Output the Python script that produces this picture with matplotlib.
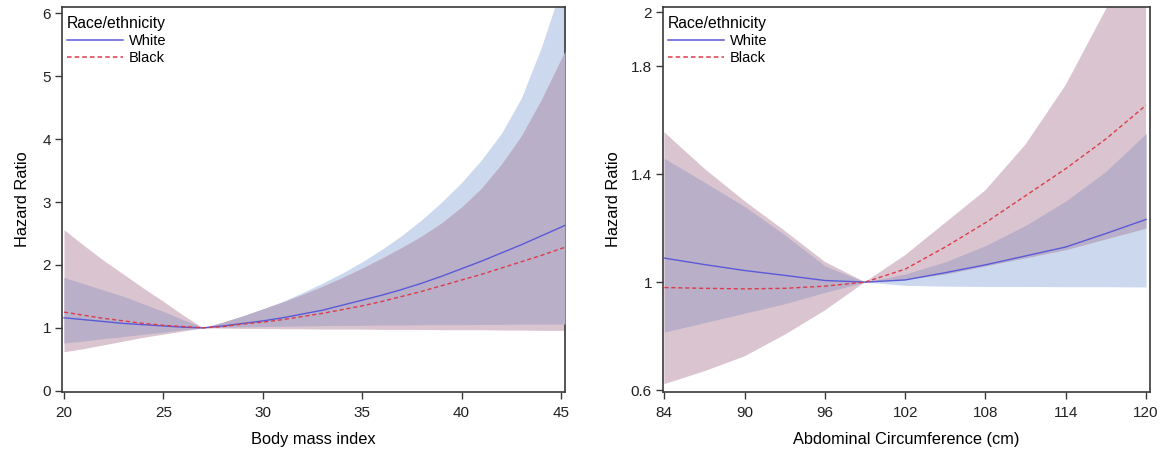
import numpy as np
import matplotlib
matplotlib.use("Agg")
import matplotlib.pyplot as plt
from matplotlib.lines import Line2D

plt.rcParams['font.family'] = ['Liberation Sans', 'DejaVu Sans']

# ---------------- Data: Body mass index ----------------
bmi = [20, 21, 22, 23, 24, 25, 26, 27, 28, 29, 30, 31, 32, 33, 34, 35, 36, 37,
       38, 39, 40, 41, 42, 43, 44, 45, 45.2]
white_hr = [1.16, 1.13, 1.10, 1.07, 1.05, 1.03, 1.01, 1.00, 1.03, 1.07, 1.11, 1.16,
            1.22, 1.28, 1.36, 1.44, 1.52, 1.61, 1.71, 1.82, 1.94, 2.06, 2.19, 2.32,
            2.46, 2.60, 2.63]
white_lo = [0.76, 0.79, 0.83, 0.86, 0.90, 0.93, 0.97, 1.00, 1.01, 1.015, 1.02, 1.025,
            1.03, 1.035, 1.04, 1.04, 1.045, 1.045, 1.05, 1.05, 1.05, 1.055, 1.055,
            1.06, 1.06, 1.06, 1.06]
white_hi = [1.80, 1.70, 1.60, 1.50, 1.38, 1.26, 1.13, 1.00, 1.09, 1.19, 1.30, 1.42,
            1.56, 1.71, 1.87, 2.05, 2.25, 2.47, 2.72, 3.00, 3.31, 3.67, 4.09, 4.65,
            5.45, 6.40, 6.60]
black_hr = [1.25, 1.20, 1.15, 1.11, 1.07, 1.04, 1.02, 1.00, 1.02, 1.06, 1.09, 1.13,
            1.18, 1.23, 1.29, 1.35, 1.42, 1.50, 1.58, 1.67, 1.76, 1.85, 1.95, 2.05,
            2.15, 2.26, 2.28]
black_lo = [0.62, 0.67, 0.73, 0.79, 0.85, 0.90, 0.95, 1.00, 0.995, 0.99, 0.99, 0.985,
            0.985, 0.98, 0.98, 0.98, 0.975, 0.975, 0.975, 0.97, 0.97, 0.97, 0.965,
            0.965, 0.96, 0.96, 0.96]
black_hi = [2.56, 2.31, 2.07, 1.85, 1.63, 1.42, 1.20, 1.00, 1.09, 1.19, 1.30, 1.41,
            1.53, 1.66, 1.80, 1.95, 2.11, 2.28, 2.46, 2.67, 2.92, 3.22, 3.60, 4.05,
            4.62, 5.27, 5.40]

# ---------------- Data: Abdominal circumference ----------------
wc = [84, 87, 90, 93, 96, 99, 102, 105, 108, 111, 114, 117, 120]
white_hr2 = [1.089, 1.065, 1.043, 1.025, 1.006, 1.0, 1.008, 1.035, 1.064, 1.097,
             1.13, 1.18, 1.232]
white_lo2 = [0.815, 0.85, 0.885, 0.92, 0.962, 1.0, 0.988, 0.985, 0.984, 0.984,
             0.983, 0.983, 0.982]
white_hi2 = [1.458, 1.37, 1.28, 1.175, 1.06, 1.0, 1.03, 1.075, 1.135, 1.21, 1.30,
             1.41, 1.55]
black_hr2 = [0.98, 0.977, 0.975, 0.977, 0.985, 1.0, 1.048, 1.13, 1.22, 1.32, 1.42,
             1.53, 1.655]
black_lo2 = [0.622, 0.67, 0.725, 0.805, 0.895, 1.0, 1.01, 1.03, 1.06, 1.09, 1.12,
             1.16, 1.20]
black_hi2 = [1.555, 1.42, 1.30, 1.19, 1.075, 1.0, 1.10, 1.22, 1.34, 1.51, 1.73,
             2.01, 2.35]

bmi_ticks = [20, 25, 30, 35, 40, 45]
bmi_yticks = [0, 1, 2, 3, 4, 5, 6]
wc_ticks = [84, 90, 96, 102, 108, 114, 120]
wc_yticks = [0.6, 1.0, 1.4, 1.8, 2.0]
wc_ytick_labels = ['0.6', '1', '1.4', '1.8', '2']

legend_title = 'Race/ethnicity'
series_names = ['White', 'Black']

# ---------------- Styles ----------------
W_BAND = '#cbd8ee'
B_BAND = '#dac4cf'
OVERLAP = '#b9afc8'
W_LINE = '#5a5ad8'
B_LINE = '#dc3c4a'
SPINE = '#3a3a3a'

W, H = 1168, 455
fig = plt.figure(figsize=(W / 100, H / 100), dpi=100)


def px_axes(l, t, r, b):
    return fig.add_axes([l / W, 1 - b / H, (r - l) / W, (b - t) / H])


ax1 = px_axes(62, 7, 565, 392)
ax2 = px_axes(663, 7, 1150, 392)


def draw(ax, x, whr, wlo, whi, bhr, blo, bhi):
    x = np.asarray(x, float)
    wlo, whi, blo, bhi = map(np.asarray, (wlo, whi, blo, bhi))
    ax.fill_between(x, wlo, whi, color=W_BAND, lw=0, zorder=1)
    ax.fill_between(x, blo, bhi, color=B_BAND, lw=0, zorder=2)
    lo = np.maximum(wlo, blo)
    hi = np.minimum(whi, bhi)
    ax.fill_between(x, lo, hi, where=hi >= lo, interpolate=True,
                    color=OVERLAP, lw=0, zorder=3)
    ax.plot(x, whr, color=W_LINE, lw=1.0, zorder=5)
    ax.plot(x, bhr, color=B_LINE, lw=1.0, ls=(0, (3, 2)), zorder=5)


draw(ax1, bmi, white_hr, white_lo, white_hi, black_hr, black_lo, black_hi)
draw(ax2, wc, white_hr2, white_lo2, white_hi2, black_hr2, black_lo2, black_hi2)

ax1.set_xlim(19.9, 45.2)
ax1.set_ylim(-0.02, 6.1)
ax1.set_xticks(bmi_ticks)
ax1.set_yticks(bmi_yticks)
ax1.set_xlabel('Body mass index', fontsize=11.8, labelpad=9)
ax1.set_ylabel('Hazard Ratio', fontsize=11.8, labelpad=9)

ax2.set_xlim(83.9, 120.3)
ax2.set_ylim(0.593, 2.019)
ax2.set_xticks(wc_ticks)
ax2.set_yticks(wc_yticks)
ax2.set_yticklabels(wc_ytick_labels)
ax2.set_xlabel('Abdominal Circumference (cm)', fontsize=11.8, labelpad=9)
ax2.set_ylabel('Hazard Ratio', fontsize=11.8, labelpad=7)

handles = [Line2D([], [], color=W_LINE, lw=1.1),
           Line2D([], [], color=B_LINE, lw=1.1, ls=(0, (3, 2)))]

for ax in (ax1, ax2):
    for s in ax.spines.values():
        s.set_color(SPINE)
        s.set_linewidth(1.2)
    ax.tick_params(direction='out', length=5, width=1, colors=SPINE,
                   labelcolor='#222222', labelsize=11)
    ax.tick_params(axis='x', pad=5)
    ax.tick_params(axis='y', pad=3)
    leg = ax.legend(handles, series_names, title=legend_title, loc='upper left',
                    bbox_to_anchor=(0.0, 0.99),
                    frameon=False, fontsize=10.5, title_fontsize=11.3,
                    handlelength=3.8, handletextpad=0.45, borderaxespad=0.15,
                    borderpad=0.2, labelspacing=0.2, alignment='left')
    leg.set_zorder(10)

fig.savefig('out.png', dpi=100, facecolor='white')
